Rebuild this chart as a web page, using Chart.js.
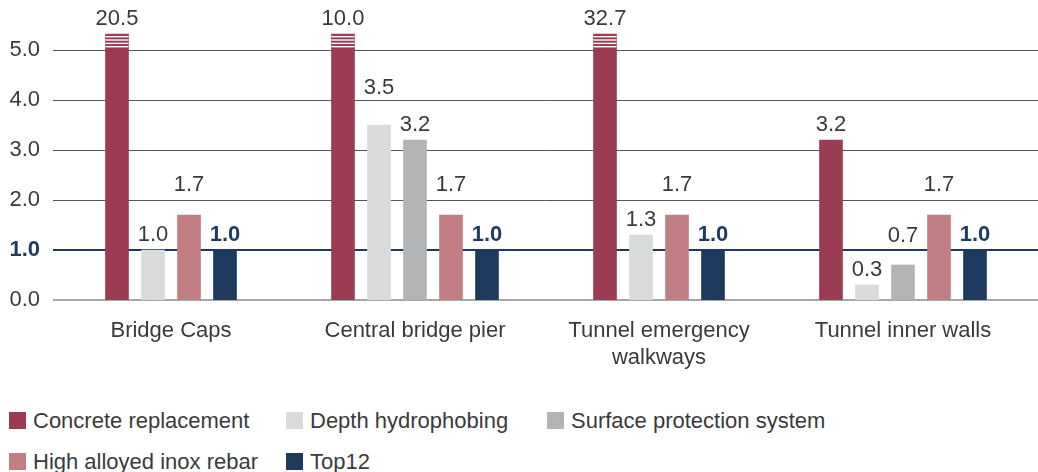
<!DOCTYPE html>
<html>
<head>
<meta charset="utf-8">
<script src="https://cdn.jsdelivr.net/npm/chart.js@4.4.1/dist/chart.umd.min.js"></script>
<style>
  body { margin: 0; background: #fff; }
  #wrap { position: relative; width: 1038px; height: 472px; overflow: hidden; }
  #chart-box { position: absolute; left: 0; top: 0; width: 1038px; height: 390px; }
  #legend {
    position: absolute; left: 9px; top: 400px;
    display: grid; grid-template-columns: 277px 261px auto; grid-auto-rows: 41px;
    font-family: "Liberation Sans", Arial, sans-serif; font-size: 22px; color: #3a3a3a;
  }
  .item { display: flex; align-items: center; white-space: nowrap; }
  .box { width: 17px; height: 17px; margin-right: 7px; flex: none; }
</style>
</head>
<body>
<div id="wrap">
  <div id="chart-box"><canvas id="costChart"></canvas></div>
  <div id="legend"></div>
</div>
<script>
// --- DONNEES ---
const categories = ["Bridge Caps", "Central bridge pier", ["Tunnel emergency", "walkways"], "Tunnel inner walls"];
const concreteReplacement = [20.5, 10.0, 32.7, 3.2];
const depthHydrophobing = [1.0, 3.5, 1.3, 0.3];
const surfaceProtection = [null, 3.2, null, 0.7];
const inoxRebar = [1.7, 1.7, 1.7, 1.7];
const top12 = [1.0, 1.0, 1.0, 1.0];
const yTicks = [0, 1, 2, 3, 4, 5];

// bars above the last tick are cut here (broken bar)
const BREAK_AT = 5.32;
const FONT = "'Liberation Sans', Arial, sans-serif";
const TEXT = '#3a3a3a';
const BLUE = '#1e3a5f';

// extra lift of some value labels so they do not collide
const labelLift = {
    'Depth hydrophobing': [0, 22, 0, 0],
    'Surface protection system': [0, 0, 0, 14],
    'High alloyed inox rebar': [15, 15, 15, 15]
};

function makeSet(label, values, color) {
    return {
        label: label,
        values: values,
        data: values.map(v => v === null ? null : Math.min(v, BREAK_AT)),
        backgroundColor: color,
        borderWidth: 0
    };
}

const datasets = [
    makeSet('Concrete replacement', concreteReplacement, '#9b3c53'),
    makeSet('Depth hydrophobing', depthHydrophobing, '#d9dbda'),
    makeSet('Surface protection system', surfaceProtection, '#b2b3b5'),
    makeSet('High alloyed inox rebar', inoxRebar, '#c17f84'),
    makeSet('Top12', top12, BLUE)
];

// --- GRILLE (lignes horizontales, de 53px au bord droit) ---
const gridPlugin = {
    id: 'gridLines',
    beforeDatasetsDraw(chart) {
        const ctx = chart.ctx;
        const y = chart.scales.y;
        ctx.save();
        yTicks.forEach(v => {
            const py = Math.round(y.getPixelForValue(v));
            ctx.beginPath();
            if (v === 0) { ctx.strokeStyle = '#8a8a8a'; ctx.lineWidth = 1.5; }
            else if (v === 1) { ctx.strokeStyle = BLUE; ctx.lineWidth = 2; }
            else { ctx.strokeStyle = '#555'; ctx.lineWidth = 1; }
            const off = ctx.lineWidth === 1 ? 0.5 : 0;
            ctx.moveTo(53, py + off);
            ctx.lineTo(chart.width, py + off);
            ctx.stroke();
        });
        ctx.restore();
    }
};

// --- ETIQUETTES + RAYURES DES BARRES COUPEES ---
const labelPlugin = {
    id: 'barLabels',
    afterDatasetsDraw(chart) {
        const ctx = chart.ctx;
        ctx.save();
        ctx.textAlign = 'center';
        ctx.textBaseline = 'middle';
        chart.data.datasets.forEach((ds, di) => {
            const meta = chart.getDatasetMeta(di);
            meta.data.forEach((bar, i) => {
                const v = ds.values[i];
                if (v === null) return;
                // stripes on top of broken bars
                if (v > yTicks[yTicks.length - 1]) {
                    ctx.fillStyle = '#fff';
                    for (let k = 0; k < 4; k++) {
                        ctx.fillRect(bar.x - bar.width / 2, bar.y + 2 + k * 3.35, bar.width, 1.35);
                    }
                }
                const isTop = ds.label === 'Top12';
                ctx.fillStyle = isTop ? BLUE : TEXT;
                ctx.font = (isTop ? 'bold ' : '') + '22px ' + FONT;
                const lift = labelLift[ds.label] ? labelLift[ds.label][i] : 0;
                ctx.fillText(v.toFixed(1), bar.x, bar.y - 15 - lift);
            });
        });
        ctx.restore();
    }
};

const chart = new Chart(document.getElementById('costChart').getContext('2d'), {
    type: 'bar',
    data: { labels: categories, datasets: datasets },
    options: {
        responsive: true,
        maintainAspectRatio: false,
        animation: false,
        layout: { padding: { top: 0, right: 13, bottom: 0, left: 0 } },
        datasets: {
            bar: { skipNull: true, barThickness: 36, maxBarThickness: 23 }
        },
        plugins: {
            legend: { display: false },
            tooltip: { enabled: false }
        },
        scales: {
            x: {
                grid: { display: false, drawTicks: false },
                border: { display: false },
                ticks: {
                    color: TEXT,
                    padding: 18,
                    maxRotation: 0,
                    autoSkip: false,
                    font: { family: FONT, size: 22, lineHeight: 1.2 }
                },
                afterFit(scale) {
                    scale.height = 90;
                    scale.paddingLeft = 0;
                    scale.paddingRight = 0;
                }
            },
            y: {
                min: 0,
                max: 6,
                grid: { display: false, drawTicks: false },
                border: { display: false },
                afterBuildTicks(scale) {
                    scale.ticks = yTicks.map(v => ({ value: v }));
                },
                afterFit(scale) {
                    scale.width = 49;
                    scale.paddingTop = 0;
                    scale.paddingBottom = 0;
                },
                ticks: {
                    padding: 9,
                    callback: v => Number(v).toFixed(1),
                    color: c => c.tick.value === 1 ? BLUE : TEXT,
                    font: c => ({ family: FONT, size: 22, weight: c.tick && c.tick.value === 1 ? 'bold' : 'normal' })
                }
            }
        }
    },
    plugins: [gridPlugin, labelPlugin]
});

// --- LEGENDE HTML ---
const legend = document.getElementById('legend');
chart.data.datasets.forEach(ds => {
    const item = document.createElement('div');
    item.className = 'item';
    item.innerHTML = `<span class="box" style="background:${ds.backgroundColor}"></span><span>${ds.label}</span>`;
    legend.appendChild(item);
});
</script>
</body>
</html>
